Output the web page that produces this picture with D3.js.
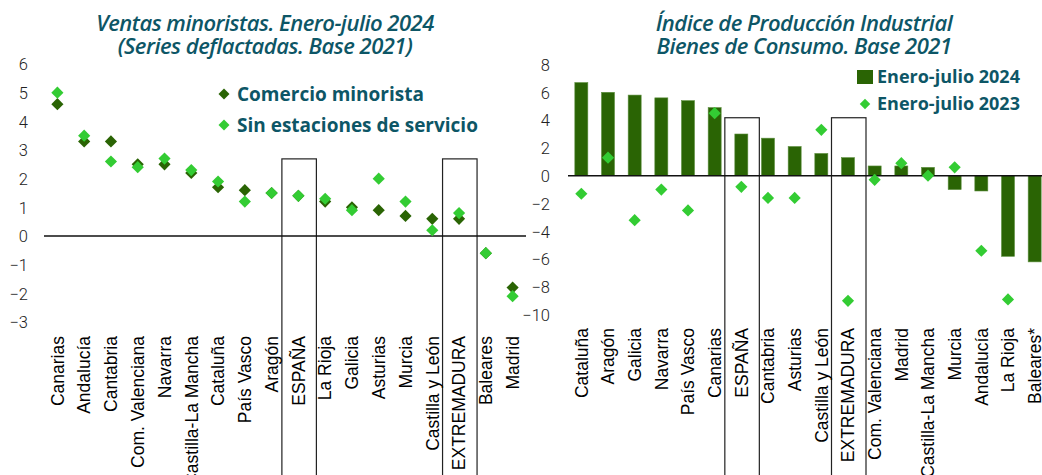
<!DOCTYPE html>
<html>
<head>
<meta charset="utf-8">
<script src="https://cdn.jsdelivr.net/npm/d3@7"></script>
<style>
  body { margin: 0; background: #fff; }
  svg { display: block; }
  .tick text { font-family: Roboto, sans-serif; font-weight: 300; font-size: 16.5px; fill: #222; }
  .cat { font-family: "Liberation Sans", Arial, sans-serif; font-size: 17.5px; fill: #000; }
  .title { font-family: "Open Sans", sans-serif; font-style: italic; font-weight: 600; font-size: 22px; fill: #0d5666; letter-spacing: -0.5px; }
  .legend { font-family: "Open Sans", sans-serif; font-weight: 700; fill: #0d5666; }
</style>
</head>
<body>
<div id="chart"></div>
<script>
var width = 1042,
    height = 475;

var darkGreen = "#2a6404",
    lightGreen = "#33cc33";

// Left chart: retail sales
const salesRegions = ["Canarias", "Andalucía", "Cantabria", "Com. Valenciana", "Navarra",
  "Castilla-La Mancha", "Cataluña", "País Vasco", "Aragón", "ESPAÑA", "La Rioja", "Galicia",
  "Asturias", "Murcia", "Castilla y León", "EXTREMADURA", "Baleares", "Madrid"];
const comercioMinorista = [4.6, 3.3, 3.3, 2.5, 2.5, 2.2, 1.7, 1.6, 1.5, 1.4, 1.2, 1.0, 0.9, 0.7, 0.6, 0.6, -0.6, -1.8];
const sinEstaciones = [5.0, 3.5, 2.6, 2.4, 2.7, 2.3, 1.9, 1.2, 1.5, 1.4, 1.3, 0.9, 2.0, 1.2, 0.2, 0.8, -0.6, -2.1];
const salesTicks = [6, 5, 4, 3, 2, 1, 0, -1, -2, -3];

// Right chart: industrial production, consumer goods
const ipiRegions = ["Cataluña", "Aragón", "Galicia", "Navarra", "País Vasco", "Canarias", "ESPAÑA",
  "Cantabria", "Asturias", "Castilla y León", "EXTREMADURA", "Com. Valenciana", "Madrid",
  "Castilla-La Mancha", "Murcia", "Andalucía", "La Rioja", "Baleares*"];
const ipi2024 = [6.7, 6.0, 5.8, 5.6, 5.4, 4.9, 3.0, 2.7, 2.1, 1.6, 1.3, 0.7, 0.7, 0.6, -1.0, -1.1, -5.8, -6.2];
const ipi2023 = [-1.3, 1.3, -3.2, -1.0, -2.5, 4.5, -0.8, -1.6, -1.6, 3.3, -9.0, -0.3, 0.9, 0.0, 0.6, -5.4, -8.9, null];
const ipiTicks = [8, 6, 4, 2, 0, -2, -4, -6, -8, -10];

const highlighted = ["ESPAÑA", "EXTREMADURA"];

var svg = d3.select("#chart").append("svg")
  .attr("width", width)
  .attr("height", height);

// rotated square = diamond
var diamond = d3.symbol().type(d3.symbolSquare).size(74);

function drawPanel(opts) {
  var g = svg.append("g");

  var x = d3.scaleBand().domain(opts.cats).range(opts.xRange);
  var y = d3.scaleLinear().domain(opts.yDomain).range(opts.yRange);

  // title, two lines in one text
  var t = g.append("text")
    .attr("class", "title")
    .attr("text-anchor", "middle");
  t.selectAll("tspan").data(opts.title).join("tspan")
    .attr("x", opts.titleX)
    .attr("y", (d, i) => 31 + i * 23)
    .text(d => d);

  // y axis, labels only
  var axis = g.append("g")
    .attr("transform", "translate(" + opts.axisX + ",0)")
    .call(d3.axisLeft(y).tickValues(opts.ticks).tickSize(0).tickPadding(0).tickFormat(d3.format("d")));
  axis.select(".domain").remove();
  axis.selectAll(".tick text").attr("dy", "0.35em");

  // boxes round the highlighted regions
  g.selectAll("rect.box").data(highlighted).join("rect")
    .attr("class", "box")
    .attr("x", d => x(d) + x.bandwidth() / 2 - 16.5)
    .attr("y", y(opts.boxTop))
    .attr("width", 34.5)
    .attr("height", height)
    .attr("fill", "none")
    .attr("stroke", "#222")
    .attr("stroke-width", 1.2);

  // bars
  if (opts.bars) {
    var bw = 13;
    g.selectAll("rect.bar").data(opts.bars).join("rect")
      .attr("class", "bar")
      .attr("x", (d, i) => x(opts.cats[i]) + x.bandwidth() / 2 - bw / 2)
      .attr("y", d => y(Math.max(0, d)))
      .attr("width", bw)
      .attr("height", d => Math.abs(y(d) - y(0)))
      .attr("fill", darkGreen)
      .attr("stroke", "#5d8f3e")
      .attr("stroke-width", 0.6);
  }

  // zero line
  g.append("line")
    .attr("x1", opts.xRange[0]).attr("x2", Math.min(opts.xRange[1], width))
    .attr("y1", y(0)).attr("y2", y(0))
    .attr("stroke", "#111")
    .attr("stroke-width", 1.5);

  // diamonds
  opts.points.forEach(function(s) {
    g.selectAll(null).data(s.values.map((v, i) => ({v: v, c: opts.cats[i]})).filter(d => d.v !== null))
      .join("path")
      .attr("d", diamond)
      .attr("transform", d => "translate(" + (x(d.c) + x.bandwidth() / 2) + "," + y(d.v) + ") rotate(45)")
      .attr("fill", s.color);
  });

  // category labels
  g.selectAll("text.cat").data(opts.cats).join("text")
    .attr("class", "cat")
    .attr("transform", d => "translate(" + (x(d) + x.bandwidth() / 2) + "," + opts.labelTop + ") rotate(-90)")
    .attr("dy", "0.36em")
    .attr("text-anchor", "end")
    .text(d => d);

  return g;
}

drawPanel({
  cats: salesRegions,
  xRange: [44, 526],
  yDomain: [-3, 6],
  yRange: [322, 64],
  ticks: salesTicks,
  axisX: 28,
  boxTop: 2.69,
  labelTop: 336,
  title: ["Ventas minoristas. Enero-julio 2024", "(Series deflactadas. Base 2021)"],
  titleX: 265,
  points: [
    {values: comercioMinorista, color: darkGreen},
    {values: sinEstaciones, color: lightGreen}
  ]
});

drawPanel({
  cats: ipiRegions,
  xRange: [568, 1048],
  yDomain: [-10, 8],
  yRange: [314.7, 64.5],
  ticks: ipiTicks,
  axisX: 550,
  boxTop: 4.17,
  labelTop: 328,
  title: ["Índice de Producción Industrial", "Bienes de Consumo. Base 2021"],
  titleX: 804,
  bars: ipi2024,
  points: [
    {values: ipi2023, color: lightGreen}
  ]
});

// legends
var legL = svg.append("g");
[["Comercio minorista", darkGreen, 94], ["Sin estaciones de servicio", lightGreen, 125]].forEach(function(d) {
  legL.append("path").attr("d", d3.symbol().type(d3.symbolSquare).size(60))
    .attr("transform", "translate(224," + d[2] + ") rotate(45)")
    .attr("fill", d[1]);
  legL.append("text").attr("class", "legend")
    .attr("x", 237).attr("y", d[2]).attr("dy", "0.36em")
    .style("font-size", "19px")
    .text(d[0]);
});

var legR = svg.append("g");
legR.append("rect").attr("x", 857).attr("y", 70).attr("width", 16).attr("height", 14).attr("fill", darkGreen);
legR.append("text").attr("class", "legend")
  .attr("x", 877).attr("y", 77).attr("dy", "0.36em").style("font-size", "18px")
  .text("Enero-julio 2024");
legR.append("path").attr("d", d3.symbol().type(d3.symbolSquare).size(55))
  .attr("transform", "translate(865,104) rotate(45)")
  .attr("fill", lightGreen);
legR.append("text").attr("class", "legend")
  .attr("x", 877).attr("y", 104).attr("dy", "0.36em").style("font-size", "18px")
  .text("Enero-julio 2023");
</script>
</body>
</html>
